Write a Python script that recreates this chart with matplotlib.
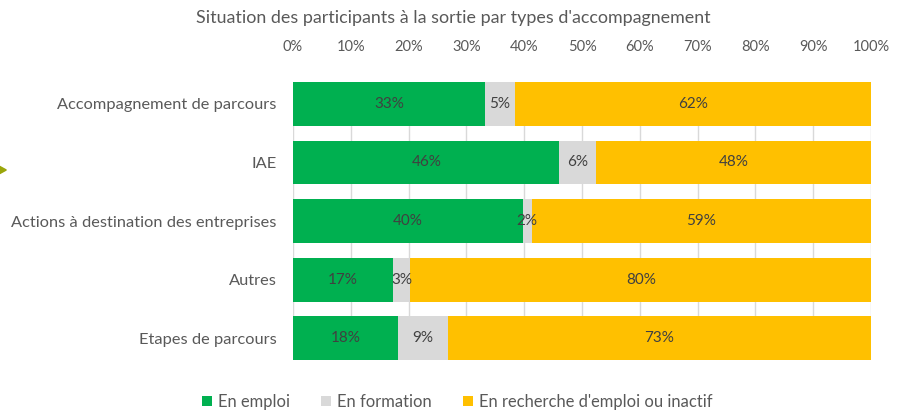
import matplotlib.pyplot as plt
from matplotlib.patches import Polygon
from matplotlib.ticker import FuncFormatter, MultipleLocator

plt.rcParams['font.family'] = ['Lato', 'DejaVu Sans']

categories = ["Accompagnement de parcours", "IAE",
              "Actions à destination des entreprises", "Autres",
              "Etapes de parcours"]
en_emploi = [33.2, 46.1, 39.7, 17.3, 18.2]
en_formation = [5.2, 6.3, 1.6, 3.0, 8.6]
en_recherche = [61.6, 47.6, 58.7, 79.7, 73.2]
series_names = ["En emploi", "En formation", "En recherche d'emploi ou inactif"]
colors = ["#00B050", "#D9D9D9", "#FFC000"]
txt = "#595959"

fig = plt.figure(figsize=(8.98, 4.11), dpi=100)
ax = fig.add_axes([0.3263, 0.124, 0.6437, 0.6765])

y = list(range(len(categories)))
left = [0] * len(categories)
for vals, name, col in zip([en_emploi, en_formation, en_recherche], series_names, colors):
    bars = ax.barh(y, vals, left=left, height=0.75, color=col, label=name, zorder=3)
    for b, v in zip(bars, vals):
        ax.text(b.get_x() + b.get_width() / 2, b.get_y() + b.get_height() / 2,
                f"{round(v):.0f}%", ha="center", va="center",
                fontsize=11, color="#404040", zorder=4)
    left = [l + v for l, v in zip(left, vals)]

ax.set_xlim(0, 100)
ax.set_ylim(len(categories) - 1 + 0.375, -0.375)
ax.set_yticks(y)
ax.set_yticklabels(categories, fontsize=11.8, color=txt)
ax.xaxis.set_major_locator(MultipleLocator(10))
ax.xaxis.set_major_formatter(FuncFormatter(lambda v, p: f"{v:.0f}%"))
ax.xaxis.tick_top()
ax.tick_params(axis="x", length=0, pad=20, labelsize=10.5, labelcolor=txt)
ax.tick_params(axis="y", length=0, pad=12)
ax.grid(axis="x", color="#D9D9D9", linewidth=1, zorder=0)
for s in ax.spines.values():
    s.set_visible(False)

fig.text(0.505, 0.956, "Situation des participants à la sortie par types d'accompagnement",
         ha="center", va="center", fontsize=12.9, color=txt)

fig.legend(loc="center", bbox_to_anchor=(0.509, 0.022), ncol=3, frameon=False,
           fontsize=11.9, labelcolor=txt, handlelength=0.6, handleheight=0.6,
           handletextpad=0.35, columnspacing=1.9)

# petit losange décoratif sur le bord gauche
yc = 1 - 170 / 411
fig.patches.append(Polygon([(-0.008, yc + 0.018), (0.007, yc), (-0.008, yc - 0.018)],
                           closed=True, transform=fig.transFigure, color="#9AA60A"))

fig.savefig("out.png", dpi=100)
